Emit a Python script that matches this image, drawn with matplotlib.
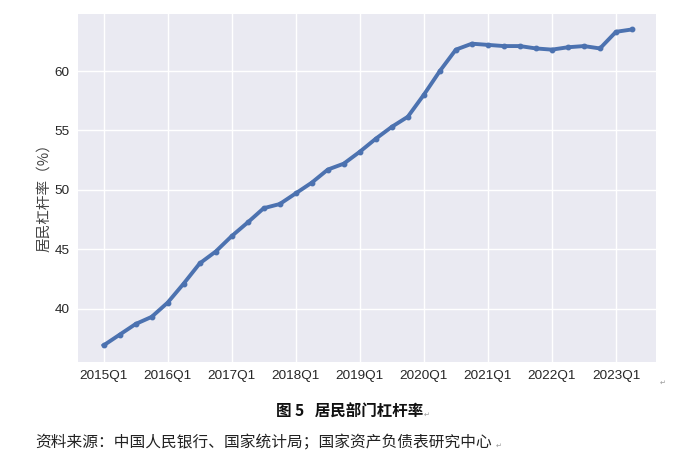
import matplotlib
matplotlib.use("Agg")
import matplotlib.pyplot as plt
import numpy as np

quarters = [f"{y}Q{q}" for y in range(2015, 2024) for q in range(1, 5)][:34]
leverage = [36.9, 37.8, 38.7, 39.3, 40.5, 42.1, 43.8, 44.8, 46.1, 47.25,
            48.45, 48.8, 49.7, 50.6, 51.7, 52.2, 53.2, 54.3, 55.3, 56.15,
            58.0, 60.0, 61.8, 62.3, 62.2, 62.1, 62.1, 61.9, 61.8, 62.0,
            62.1, 61.9, 63.3, 63.5]
tick_labels = [f"{y}Q1" for y in range(2015, 2024)]
ylabel = "居民杠杆率（%）"
title = "图 5   居民部门杠杆率"
source = "资料来源：中国人民银行、国家统计局；国家资产负债表研究中心"

cjk = ['Noto Sans CJK SC', 'DejaVu Sans']
plt.rcParams['font.family'] = ['Liberation Sans', 'Noto Sans CJK SC', 'DejaVu Sans']

fig = plt.figure(figsize=(7, 4.76), dpi=100)
ax = fig.add_axes([78/700, 1-362/476, (656-78)/700, (362-14)/476])
ax.set_facecolor('#EAEAF2')
for s in ax.spines.values():
    s.set_visible(False)
ax.grid(True, color='white', linewidth=1.0)
ax.set_axisbelow(True)

x = np.arange(len(leverage))
ax.plot(x, leverage, color='#4C72B0', linewidth=2.8, marker='o', markersize=3.2)
ax.set_xlim(-1.6, 34.5)
ax.set_ylim(35.5, 64.8)
ax.set_xticks(np.arange(0, 34, 4))
ax.set_xticklabels(tick_labels)
ax.set_yticks([40, 45, 50, 55, 60])
ax.tick_params(length=0, labelsize=9.7, colors='#262626', pad=6)

fig.text(44/700, 1-194/476, ylabel, family=cjk, fontsize=10.5, color='#444444',
         rotation=90, ha='center', va='center')

fig.text(0.5, 1-412/476, title, family=cjk, fontsize=11.2, fontweight='bold',
         ha='center', va='center', color='#111111')
fig.text(35/700, 1-443/476, source, family=cjk, fontsize=11.3,
         ha='left', va='center', color='#222222')
mark = dict(fontsize=5, color='#999999', ha='left', va='center', family=['DejaVu Sans'])
fig.text(660/700, 1-383/476, "↵", **mark)
fig.text(424/700, 1-415/476, "↵", **mark)
fig.text(496/700, 1-446/476, "↵", **mark)

fig.savefig("out.png", dpi=100)
